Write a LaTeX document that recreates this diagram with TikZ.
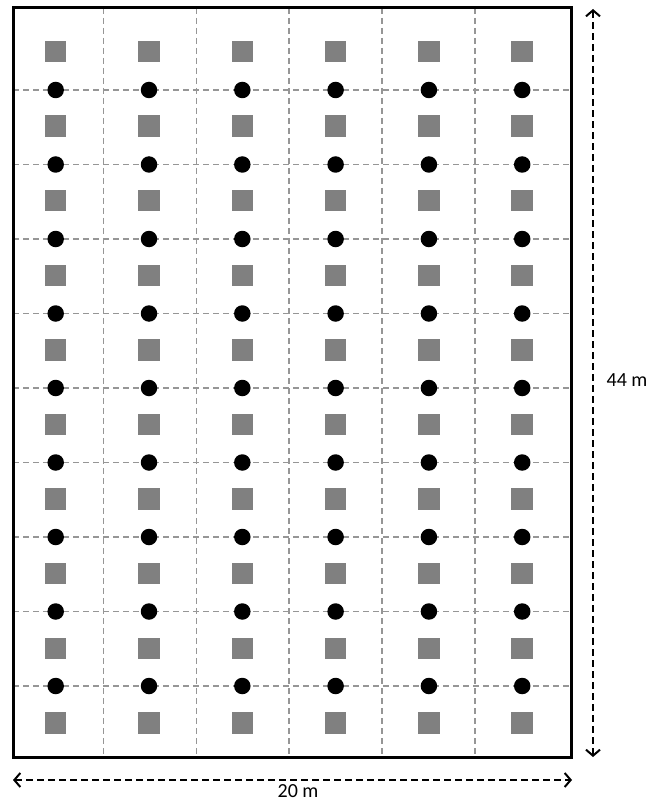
\documentclass[tikz,border=0pt]{standalone}
\usepackage{fontspec}
\setmainfont{Carlito}
\usetikzlibrary{arrows.meta}
\definecolor{sqgray}{RGB}{128,128,128}
\definecolor{gridgray}{RGB}{150,150,150}
\tikzset{
  plotsq/.style={fill=sqgray, draw=none, minimum size=21.5pt, inner sep=0pt, shape=rectangle},
  plotdot/.style={fill=black, draw=none, circle, minimum size=16.5pt, inner sep=0pt},
  gridline/.style={draw=gridgray, line width=1.6pt, dash pattern=on 6pt off 4pt},
  border/.style={draw=black, line width=3pt},
  dimarrow/.style={draw=black, line width=2.2pt, dash pattern=on 7pt off 4pt, {Straight Barb[length=6pt,width=14pt,line width=2pt]}-{Straight Barb[length=6pt,width=14pt,line width=2pt]}},
  dimlabel/.style={font=\fontsize{20}{24}\selectfont, inner sep=0pt}
}
\begin{document}
\begin{tikzpicture}[x=1pt,y=-1pt]
\useasboundingbox (0,0) rectangle (660,802);
\coordinate (tl) at (13,8);
\coordinate (br) at (571,757);
% grid lines
\foreach \i in {0,...,4} {
  \pgfmathsetmacro\gx{103.5+92.8*\i}
  \coordinate (vt\i) at (\gx,8);
  \coordinate (vb\i) at (\gx,757);
  \draw[gridline] (vt\i) -- (vb\i);
}
\foreach \j in {0,...,8} {
  \pgfmathsetmacro\gy{90+74.5*\j}
  \coordinate (hl\j) at (13,\gy);
  \coordinate (hr\j) at (571,\gy);
  \draw[gridline] (hl\j) -- (hr\j);
}
% squares
\foreach \i in {0,...,5} {
  \foreach \j in {0,...,9} {
    \pgfmathsetmacro\px{55.7+93.3*\i}
    \pgfmathsetmacro\py{51.5+74.6*\j}
    \node[plotsq] (s-\i-\j) at (\px,\py) {};
  }
}
% dots
\foreach \i in {0,...,5} {
  \foreach \j in {0,...,8} {
    \pgfmathsetmacro\px{55.7+93.3*\i}
    \pgfmathsetmacro\py{90+74.5*\j}
    \node[plotdot] (c-\i-\j) at (\px,\py) {};
  }
}
% border
\draw[border] (tl) rectangle (br);
% dimension arrows
\coordinate (vtop) at (593,9);
\coordinate (vbot) at (593,757);
\draw[dimarrow] (vtop) -- (vbot);
\coordinate (hleft) at (13,780);
\coordinate (hright) at (572,780);
\draw[dimarrow] (hleft) -- (hright);
\node[dimlabel] (lh) at (627,380) {44 m};
\node[dimlabel] (lw) at (298,791) {20 m};
\end{tikzpicture}
\end{document}
